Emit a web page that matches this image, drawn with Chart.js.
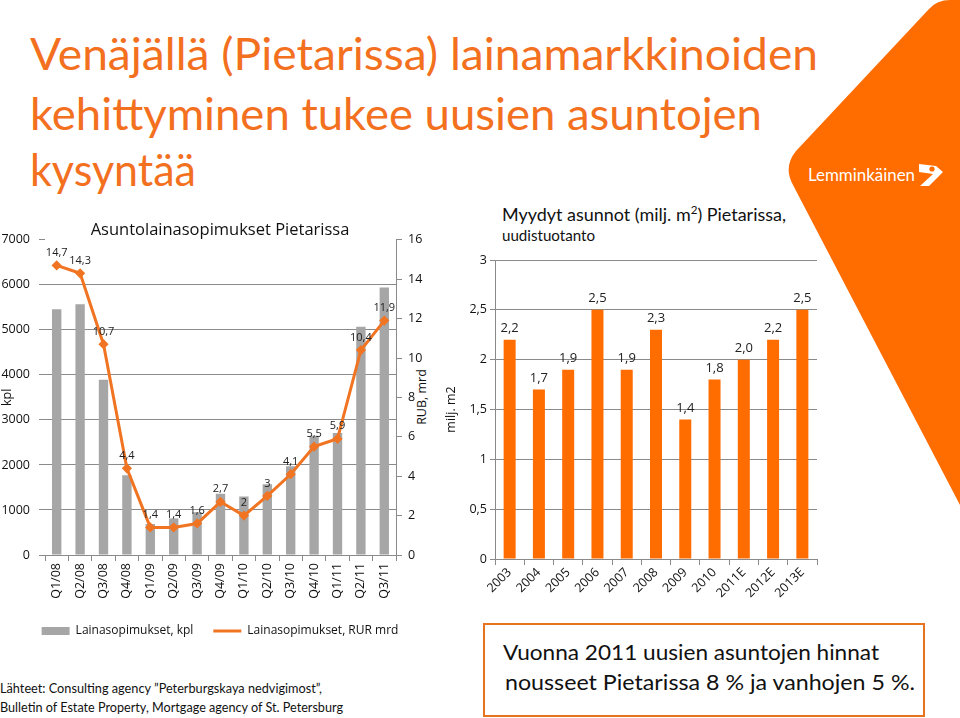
<!DOCTYPE html>
<html>
<head>
<meta charset="utf-8">
<script src="https://cdn.jsdelivr.net/npm/chart.js@4.4.1/dist/chart.umd.min.js"></script>
<style>
  html, body { margin: 0; padding: 0; background: #fff; }
  body { width: 960px; height: 718px; position: relative; overflow: hidden; font-family: Lato, "Open Sans", sans-serif; }
  .t { position: absolute; white-space: nowrap; transform-origin: 0 0; line-height: 1.2; }
  canvas { position: absolute; }
  .headline { color: #f3701f; font-size: 45px; }
  .box { position: absolute; left: 483px; top: 623px; width: 438px; height: 90px; border: 2px solid #e8731f; }
</style>
</head>
<body>
<svg width="960" height="718" style="position:absolute;left:0;top:0">
  <path d="M960 0 L950 0 Q937 0 929 9 L796 151 Q783 167 793 185 L960 505 Z" fill="#ff6c00"/>
  <path d="M919 164 L936 166 L943 172 L929 186 L920 186 L933 174 L919 172 Z" fill="#fff"/>
  <circle cx="932" cy="169" r="2.6" fill="#ff6c00"/>
</svg>

<div class="t headline" data-w="788" style="left:30px;top:26px">Venäjällä (Pietarissa) lainamarkkinoiden</div>
<div class="t headline" data-w="732" style="left:30px;top:86px">kehittyminen tukee uusien asuntojen</div>
<div class="t headline" data-w="166" style="left:30px;top:142px">kysyntää</div>

<div class="t" data-w="107" style="left:808px;top:165px;font-size:17px;color:#fff">Lemminkäinen</div>

<div class="t" data-w="284" style="left:502px;top:205px;font-size:17px;color:#111">Myydyt asunnot (milj. m<sup style="font-size:11px;line-height:0">2</sup>) Pietarissa,</div>
<div class="t" data-w="93" style="left:502px;top:226px;font-size:15px;color:#111">uudistuotanto</div>

<div style="position:absolute;left:421px;top:397px;transform:translate(-50%,-50%) rotate(-90deg);font:12.5px 'Open Sans',sans-serif;color:#111;white-space:nowrap">RUB, mrd</div>

<canvas id="loanChart" width="440" height="432" style="left:0;top:215px"></canvas>
<canvas id="areaChart" width="400" height="374" style="left:440px;top:245px"></canvas>

<div class="t" data-w="322" style="left:0;top:681px;font-size:13px;color:#111">Lähteet: Consulting agency ”Peterburgskaya nedvigimost”,</div>
<div class="t" data-w="343" style="left:0;top:700px;font-size:13px;color:#111">Bulletin of Estate Property, Mortgage agency of St. Petersburg</div>

<div class="box"></div>
<div class="t" data-w="376" style="left:503px;top:639px;font-size:21px;color:#111">Vuonna 2011 uusien asuntojen hinnat</div>
<div class="t" data-w="410" style="left:505px;top:669px;font-size:21px;color:#111">nousseet Pietarissa 8 % ja vanhojen 5 %.</div>

<script>
// Asuntolainasopimukset Pietarissa, quarterly
const quarters = ["Q1/08", "Q2/08", "Q3/08", "Q4/08", "Q1/09", "Q2/09", "Q3/09", "Q4/09",
  "Q1/10", "Q2/10", "Q3/10", "Q4/10", "Q1/11", "Q2/11", "Q3/11"];
const loanCounts = [5460, 5570, 3890, 1770, 690, 810, 950, 1360, 1300, 1570, 1970, 2650, 2710, 5070, 5940];
const loanVolumes = [14.7, 14.3, 10.7, 4.4, 1.4, 1.4, 1.6, 2.7, 2, 3, 4.1, 5.5, 5.9, 10.4, 11.9];

// Myydyt asunnot (milj. m2), uudistuotanto
const years = ["2003", "2004", "2005", "2006", "2007", "2008", "2009", "2010", "2011E", "2012E", "2013E"];
const soldArea = [2.2, 1.7, 1.9, 2.5, 1.9, 2.3, 1.4, 1.8, 2.0, 2.2, 2.5];

const GRID = "#8a8a8a";
const ORANGE_LINE = "#f07422";
const ORANGE_BAR = "#ff6c00";

Chart.defaults.font.family = "'Open Sans', sans-serif";
Chart.defaults.font.size = 12.5;
Chart.defaults.color = "#111";

// finnish decimal comma
const fi = (v, d) => (d == null ? String(v) : Number(v).toFixed(d)).replace(".", ",");

// draws the value above each point / bar of one dataset
const valueLabels = {
  id: "valueLabels",
  afterDatasetsDraw(chart, args, opts) {
    const ds = chart.data.datasets[opts.dataset];
    const meta = chart.getDatasetMeta(opts.dataset);
    const ctx = chart.ctx;
    ctx.save();
    ctx.font = opts.size + "px 'Open Sans', sans-serif";
    ctx.fillStyle = "#222";
    ctx.textAlign = "center";
    ctx.textBaseline = "bottom";
    meta.data.forEach((el, i) => {
      ctx.fillText(fi(ds.data[i], opts.decimals), el.x, el.y - opts.offset);
    });
    ctx.restore();
  }
};

new Chart(document.getElementById("loanChart"), {
  data: {
    labels: quarters,
    datasets: [
      {
        type: "bar",
        label: "Lainasopimukset, kpl",
        data: loanCounts,
        backgroundColor: "#a6a6a6",
        barPercentage: 0.4,
        categoryPercentage: 1,
        yAxisID: "y",
        order: 2
      },
      {
        type: "line",
        label: "Lainasopimukset, RUR mrd",
        data: loanVolumes,
        borderColor: ORANGE_LINE,
        backgroundColor: ORANGE_LINE,
        borderWidth: 3,
        pointStyle: "rectRot",
        pointRadius: 3,
        yAxisID: "y1",
        order: 1
      }
    ]
  },
  options: {
    responsive: false,
    animation: false,
    layout: { padding: 0 },
    scales: {
      x: {
        grid: { drawOnChartArea: false, offset: true, tickLength: 6, color: GRID },
        border: { color: GRID },
        ticks: { minRotation: 90, maxRotation: 90, autoSkip: false, padding: 2 },
        afterFit(s) { s.height = 50; }
      },
      y: {
        position: "left",
        min: 0,
        max: 7000,
        ticks: { stepSize: 1000, padding: 9, callback: v => fi(v) },
        grid: {
          color: c => (c.tick && c.tick.value === 7000 ? "rgba(0,0,0,0)" : GRID),
          tickColor: GRID,
          tickLength: 6
        },
        border: { display: false },
        title: { display: true, text: "kpl", padding: 0 },
        afterFit(s) { s.width = 45; }
      },
      y1: {
        position: "right",
        min: 0,
        max: 16,
        ticks: { stepSize: 2, padding: 6, callback: v => fi(v) },
        grid: { drawOnChartArea: false, tickLength: 6, color: GRID },
        border: { color: GRID },
        afterFit(s) { s.width = 44; }
      }
    },
    plugins: {
      title: {
        display: true,
        text: "Asuntolainasopimukset Pietarissa",
        font: { size: 16.5, weight: "normal" },
        color: "#111",
        padding: { top: 5, bottom: 0 }
      },
      legend: {
        position: "bottom",
        labels: {
          usePointStyle: true,
          pointStyleWidth: 28,
          boxHeight: 8,
          padding: 20,
          font: { size: 12 },
          generateLabels(chart) {
            const items = Chart.defaults.plugins.legend.labels.generateLabels(chart);
            items.forEach(it => {
              const ds = chart.data.datasets[it.datasetIndex];
              if (ds.type === "line") {
                it.pointStyle = "line";
                it.lineWidth = 3;
                it.strokeStyle = ds.borderColor;
              } else {
                it.pointStyle = "rect";
                it.lineWidth = 0;
              }
            });
            return items.sort((a, b) => a.datasetIndex - b.datasetIndex);
          }
        }
      },
      tooltip: { enabled: false },
      valueLabels: { dataset: 1, decimals: null, size: 11, offset: 7 }
    }
  },
  plugins: [valueLabels]
});

new Chart(document.getElementById("areaChart"), {
  type: "bar",
  data: {
    labels: years,
    datasets: [
      {
        label: "Myydyt asunnot",
        data: soldArea,
        backgroundColor: ORANGE_BAR,
        barPercentage: 0.41,
        categoryPercentage: 1
      }
    ]
  },
  options: {
    responsive: false,
    animation: false,
    layout: { padding: { top: 15, right: 23, left: 0, bottom: 0 } },
    scales: {
      x: {
        grid: { drawOnChartArea: false, offset: true, tickLength: 6, color: GRID },
        border: { color: GRID },
        ticks: { minRotation: 45, maxRotation: 45, autoSkip: false, padding: 0 },
        afterFit(s) { s.height = 60; }
      },
      y: {
        min: 0,
        max: 3,
        ticks: { stepSize: 0.5, padding: 3, callback: v => fi(v) },
        grid: { color: GRID, tickLength: 5 },
        border: { color: GRID },
        title: { display: true, text: "milj. m2" },
        afterFit(s) { s.width = 55; }
      }
    },
    plugins: {
      legend: { display: false },
      tooltip: { enabled: false },
      valueLabels: { dataset: 0, decimals: 1, size: 13, offset: 5 }
    }
  },
  plugins: [valueLabels]
});

function fitText() {
  document.querySelectorAll("[data-w]").forEach(el => {
    el.style.transform = "none";
    const w = el.getBoundingClientRect().width;
    el.style.transform = "scaleX(" + (parseFloat(el.dataset.w) / w) + ")";
  });
}
fitText();
if (document.fonts) document.fonts.ready.then(fitText);
</script>
</body>
</html>
